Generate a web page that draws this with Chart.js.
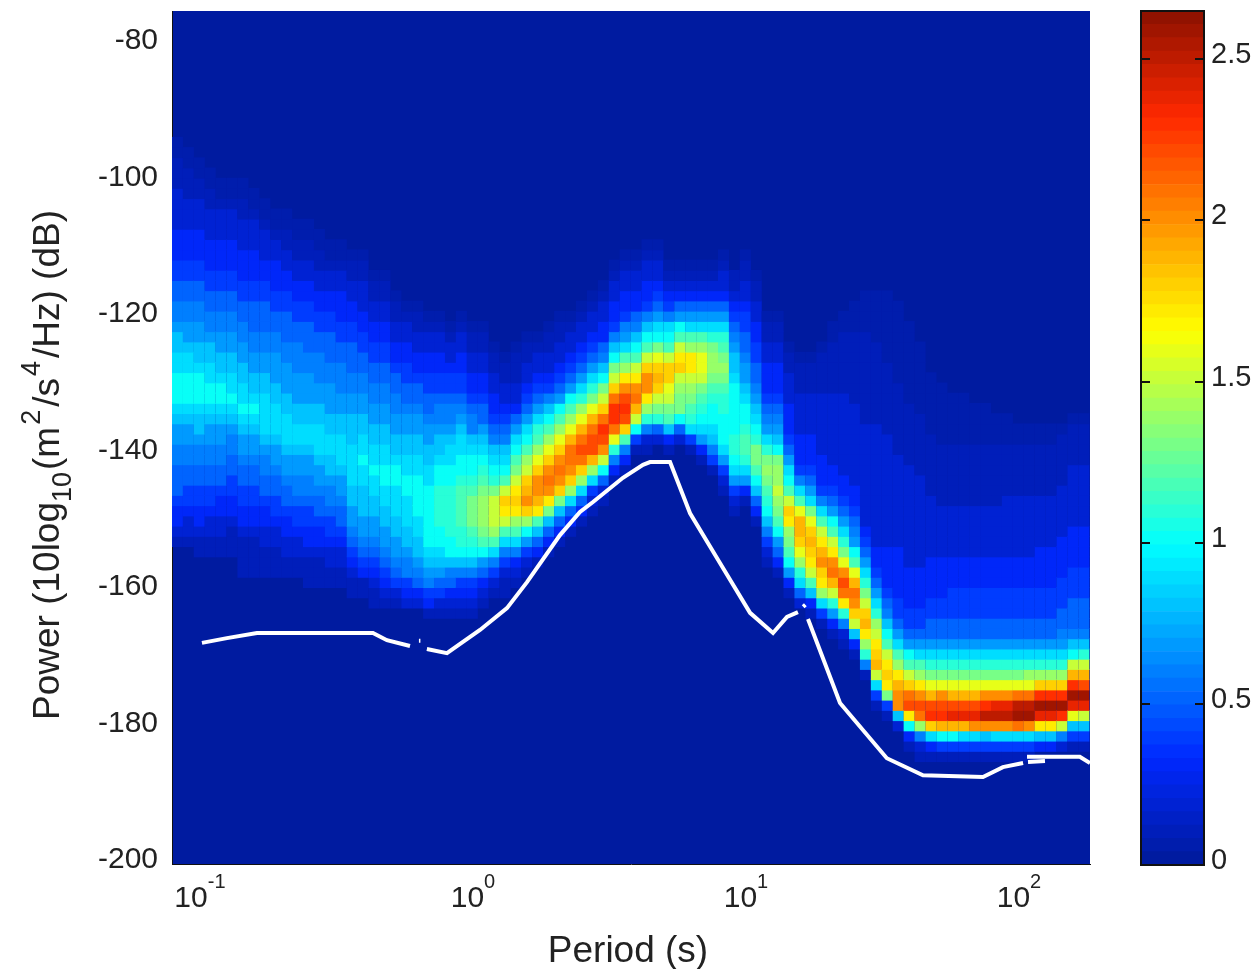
<!DOCTYPE html>
<html>
<head>
<meta charset="utf-8">
<title>Power spectral density</title>
<script src="https://cdn.jsdelivr.net/npm/chart.js@4"></script>
<style>
    html, body { margin: 0; background: #fff; }
    canvas { position: absolute; top: 0; filter: blur(0.6px); }
    #ppsd { left: 0; }
    #colorbar { left: 1130px; }
</style>
</head>
<body>
<canvas id="ppsd" width="1130" height="969"></canvas>
<canvas id="colorbar" width="126" height="969"></canvas>
<script>
// axis ticks
const periodTicks = [0.1, 1, 10, 100];
const powerTicks = [-200, -180, -160, -140, -120, -100, -80];
const colorTicks = [0, 0.5, 1, 1.5, 2, 2.5];
const colorMax = 2.65;

// histogram bins: log10(period) and dB of the lower edges, and the bin widths
const binLogStart = -1.1024;
const binLogStep = 0.04;
const binDbStart = -200;
const binDbStep = 1.5;

// first non-empty power bin of every period column
const columnStart = [
    31, 31, 30, 30, 30, 30, 28, 28, 28, 28, 28, 28, 27, 27, 27, 27, 26, 26, 25, 25, 25,
    25, 25, 24, 24, 24, 24, 24, 25, 26, 26, 27, 28, 29, 30, 31, 32, 33, 34, 35, 37, 38,
    40, 40, 41, 40, 41, 40, 39, 38, 36, 34, 35, 33, 29, 28, 26, 25, 24, 23, 22, 21, 20,
    18, 15, 14, 13, 11, 10, 10, 10, 10, 10, 10, 10, 10, 10, 10, 10, 11, 11, 11, 11, 11
];

// density of each column going up from columnStart, in tenths
const columnDensity = [
    [1,2,3,3,4,5,5,5,6,6,7,7,8,9,10,10,10,9,9,8,8,7,6,6,5,5,4,4,3,3,3,2,2,2,2,1,1,1,.5,.5],
    [1,2,2,3,4,4,5,5,6,6,7,7,8,9,10,10,10,9,9,8,7,7,6,6,5,5,4,4,3,3,3,2,2,2,1,1,1,.5,.5],
    [1,1,2,3,3,4,4,5,5,6,6,7,8,8,9,10,10,10,9,8,8,7,7,6,6,5,5,4,4,3,3,3,2,2,2,1,1,.5,.5],
    [1,1,2,2,3,4,4,5,5,6,6,7,7,8,9,10,10,9,9,8,8,7,6,6,5,5,4,4,3,3,3,2,2,2,1,1,.5,.5],
    [1,1,2,2,3,3,4,5,5,6,6,7,7,8,9,10,10,9,8,8,7,7,6,6,5,5,4,4,3,3,3,2,2,2,1,.5,.5],
    [1,1,1,2,3,3,4,4,5,5,6,6,7,8,9,10,9,9,8,8,7,7,6,6,5,5,4,4,3,3,3,2,2,2,1,.5,.5],
    [1,1,1,1,2,3,3,4,4,5,5,6,7,7,8,9,10,9,9,8,8,7,7,6,6,5,5,4,4,3,3,3,2,2,2,1,1,.5,.5],
    [1,1,1,1,2,3,3,4,4,5,5,6,7,7,8,9,10,9,8,8,7,7,6,6,5,5,5,4,4,3,3,3,2,2,2,1,.5,.5],
    [1,1,1,2,2,3,3,4,5,5,6,6,7,8,9,9,9,9,8,8,7,7,6,6,5,5,5,4,4,3,3,2,2,2,1,.5,.5],
    [1,1,1,2,2,3,4,4,5,5,6,7,7,8,9,9,9,8,8,7,7,7,6,6,5,5,4,4,3,3,3,2,2,1,.5,.5],
    [1,1,2,2,3,3,4,5,5,6,7,7,8,9,9,9,8,8,7,7,7,6,6,5,5,5,4,4,3,3,2,2,1,1,.5,.5],
    [1,1,2,2,3,4,4,5,6,6,7,7,8,9,9,8,8,7,7,7,6,6,6,5,5,4,4,3,3,2,2,1,1,.5,.5],
    [1,1,1,2,3,3,4,4,5,6,6,7,7,8,9,9,8,8,7,7,7,6,6,5,5,5,4,4,3,3,2,2,1,1,.5,.5],
    [1,1,1,2,3,3,4,5,5,6,7,7,8,9,9,9,8,8,7,7,6,6,6,5,5,4,4,3,3,2,2,1,1,.5,.5],
    [1,1,2,2,3,4,4,5,6,6,7,8,8,9,9,8,8,7,7,7,6,6,5,5,5,4,4,3,3,2,2,1,.5,.5],
    [1,1,2,2,3,4,5,5,6,7,7,8,9,9,9,8,8,7,7,6,6,6,5,5,4,4,3,3,3,2,2,1,.5,.5],
    [1,1,2,3,4,5,6,7,7,8,8,9,9,9,9,8,8,8,7,7,6,6,5,5,5,4,4,3,3,2,2,1,1,.5],
    [1,1,3,4,5,6,7,7,8,8,8,9,9,10,9,9,8,8,7,7,6,6,5,5,4,4,3,3,2,2,2,1,1,.5],
    [1,1,2,3,4,5,6,7,7,8,8,9,9,10,9,9,8,8,7,7,6,6,5,5,4,4,3,3,2,2,1,1,.5],
    [1,2,3,4,5,6,7,7,8,8,9,9,10,10,9,9,8,8,7,7,6,6,5,5,4,4,3,3,2,2,1,1,.5],
    [1,2,4,5,6,7,7,8,8,9,9,9,10,10,9,8,8,7,7,6,6,5,5,4,3,3,2,2,1,1,.5],
    [2,3,4,6,6,7,8,8,9,9,9,10,10,9,9,8,8,7,7,6,5,5,4,4,3,3,2,2,1,.5],
    [2,3,5,6,7,8,8,9,9,10,10,10,10,9,9,8,8,7,7,6,5,5,4,3,3,2,2,1,1,.5],
    [1,3,4,6,7,8,9,10,10,10,10,10,10,9,9,8,8,7,7,6,5,5,4,4,3,3,2,2,1,.5],
    [1,2,4,5,7,8,9,10,10,11,11,11,11,10,10,9,8,8,7,6,6,5,4,4,3,3,2,2,1,.5],
    [1,2,3,5,6,8,10,10,11,11,11,11,11,10,10,9,9,8,7,6,6,5,4,4,3,2,2,1,.5],
    [1,2,3,4,6,8,10,11,11,12,12,12,12,11,10,10,9,9,8,7,6,5,4,4,3,3,2,2,1,.5],
    [1,2,3,4,6,8,10,11,12,13,13,13,12,11,10,10,9,8,6,6,5,4,3,3,2,2,1,1,.5],
    [1,2,3,5,7,10,12,13,14,14,14,13,12,11,10,9,8,7,5,5,4,3,3,2,2,1,1,.5],
    [1,2,4,6,9,12,14,15,15,15,13,11,10,9,8,6,5,4,3,3,2,2,1,1,.5],
    [1,1,2,4,6,9,12,15,17,18,15,12,10,9,8,6,5,4,3,2,2,1,1,.5],
    [1,2,3,6,9,12,14,17,18,17,15,13,12,10,9,7,5,3,2,2,1,1,1,.5],
    [1,2,4,7,10,14,18,20,19,18,15,14,12,10,9,7,5,4,3,2,2,1,1,.5],
    [1,3,5,8,12,17,19,20,20,18,16,14,12,11,9,7,5,4,3,2,2,1,.5],
    [1,3,5,8,13,17,20,21,20,18,16,14,12,10,8,6,4,3,2,2,1,1,.5],
    [1,3,5,8,13,18,20,21,20,18,16,14,12,10,7,5,4,3,2,2,1,1,.5],
    [1,3,5,9,14,18,20,21,21,19,16,14,12,10,7,5,4,3,2,2,1,.5],
    [1,3,5,9,14,18,21,22,21,19,16,14,11,9,7,5,4,3,2,2,1,.5],
    [1,2,4,9,14,19,22,22,21,19,16,13,11,9,7,5,4,3,2,2,1,.5],
    [1,2,5,10,15,20,22,23,21,18,15,13,10,8,6,5,3,3,2,2,1,.5],
    [1,3,6,11,16,21,23,23,21,18,15,13,10,8,6,4,3,3,2,2,1,.5],
    [1,3,6,12,18,22,23,22,20,17,14,12,9,7,6,4,3,3,2,2,1,.5],
    [1,4,10,15,19,21,20,17,15,12,10,8,6,5,3,3,2,2,1,.5],
    [1,2,6,11,14,17,20,20,18,15,12,10,8,6,4,3,3,2,2,1,.5],
    [2,5,11,13,15,18,19,18,16,13,10,9,7,5,4,3,2,2,1,.5],
    [1,3,8,12,13,15,16,18,18,15,12,10,9,6,4,3,2,1,.5],
    [2,5,10,13,13,14,15,18,17,15,12,10,7,5,3,2,1,.5],
    [1,4,9,11,12,13,14,15,17,17,14,12,9,7,5,3,2,1,.5],
    [1,3,7,9,10,11,12,13,15,16,16,14,12,9,7,5,3,2,1,.5],
    [1,4,6,8,9,10,10,11,12,13,14,14,13,11,9,7,5,3,2,1,.5],
    [1,2,4,7,9,10,10,10,11,11,12,13,14,13,12,11,9,7,5,3,2,2,1,.5],
    [1,2,4,7,9,10,11,11,10,10,10,10,10,9,8,8,7,6,5,4,3,2,1,1],
    [1,3,7,9,11,12,12,11,10,10,9,8,7,7,6,5,5,4,4,3,2,2,1,1,.5],
    [1,3,5,8,10,12,13,13,11,10,9,8,7,6,5,5,4,4,3,3,2,2,1,1,.5],
    [1,2,4,6,8,10,11,12,13,14,13,11,9,7,6,5,4,3,3,3,2,2,1,1,.5],
    [1,3,5,7,10,12,13,14,15,14,14,13,10,8,7,6,5,4,3,3,3,2,2,1,1,.5],
    [1,3,7,10,12,13,14,17,18,15,12,10,9,7,5,4,3,3,3,2,2,2,1,1,.5],
    [2,5,9,11,14,16,18,19,19,16,12,9,6,4,3,3,3,2,2,2,2,1,1,1,.5],
    [1,3,8,12,15,17,18,19,18,16,13,9,7,5,4,3,3,3,2,2,2,2,1,1,1,.5],
    [1,4,9,14,17,18,20,19,17,15,12,9,6,4,3,3,3,2,2,2,2,2,2,1,1,1,1,.5],
    [1,3,7,11,15,19,21,20,17,15,12,10,7,5,4,3,3,2,2,2,2,2,2,2,1,1,1,1,1,.5,.5],
    [1,2,6,11,17,21,22,20,16,13,11,9,7,5,4,3,3,2,2,2,2,2,2,2,2,1,1,1,1,1,1,.5,.5],
    [1,3,8,15,18,20,21,19,16,12,10,7,6,5,4,3,3,2,2,2,2,2,2,2,2,1,1,1,1,1,1,1,.5,.5,.5],
    [1,6,11,14,17,19,18,15,13,11,9,7,5,4,3,2,2,2,2,2,2,2,2,2,2,1,1,1,1,1,1,1,1,1,.5,.5,.5,.5],
    [1,4,9,15,19,18,17,15,14,11,9,7,5,4,3,3,2,2,2,2,2,2,2,2,2,2,2,2,1,1,1,1,1,1,1,1,.5,.5,.5,.5,.5],
    [1,4,13,17,18,17,15,12,10,8,6,5,4,3,3,3,3,2,2,2,2,2,2,2,2,2,2,2,1,1,1,1,1,1,1,.5,.5,.5,.5,.5,.5,.5],
    [2,8,20,20,19,17,14,12,9,7,5,4,4,3,3,3,3,3,2,2,2,2,2,2,2,2,2,1,1,1,1,1,1,1,.5,.5,.5,.5,.5,.5,.5,.5],
    [1,3,10,17,22,21,18,15,12,10,7,5,4,4,3,3,3,3,2,2,2,2,2,2,2,2,2,2,1,1,1,1,1,1,.5,.5,.5,.5,.5,.5,.5,.5],
    [1,2,6,14,21,22,20,17,14,12,9,7,5,4,4,3,3,3,3,2,2,2,2,2,2,2,2,2,1,1,1,1,1,1,.5,.5,.5,.5,.5,.5,.5],
    [1,3,9,18,23,22,19,16,13,11,9,7,5,5,4,4,3,3,3,3,2,2,2,2,2,2,1,1,1,1,1,1,.5,.5,.5,.5,.5,.5],
    [1,4,10,19,23,22,20,16,13,11,9,7,5,5,4,4,3,3,3,3,2,2,2,2,2,1,1,1,1,1,1,.5,.5,.5,.5,.5,.5],
    [1,4,10,19,24,22,19,16,13,11,9,7,5,5,4,4,4,3,3,3,2,2,2,2,2,1,1,1,1,1,1,.5,.5,.5,.5,.5],
    [1,4,9,19,24,22,19,16,13,11,9,7,5,5,4,4,4,3,3,3,2,2,2,2,2,1,1,1,1,1,1,.5,.5,.5,.5,.5],
    [1,4,9,20,24,22,19,16,13,11,9,7,5,5,4,4,4,3,3,3,2,2,2,2,2,1,1,1,1,1,1,.5,.5,.5,.5],
    [1,4,8,20,25,23,20,16,13,11,9,7,5,5,4,4,4,3,3,3,2,2,2,2,2,1,1,1,1,1,1,.5,.5,.5,.5],
    [1,4,9,20,25,24,20,16,13,11,9,7,5,5,4,4,4,3,3,3,2,2,2,2,2,1,1,1,1,1,1,.5,.5,.5],
    [1,4,9,20,25,24,20,16,13,11,9,7,5,5,4,4,4,3,3,3,2,2,2,2,2,2,1,1,1,1,1,.5,.5,.5],
    [1,4,9,21,26,25,21,16,13,11,9,7,5,5,4,4,4,3,3,3,2,2,2,2,2,2,1,1,1,1,1,.5,.5],
    [1,4,9,20,26,25,21,16,14,11,9,7,5,5,4,4,4,3,3,3,2,2,2,2,2,2,1,1,1,1,1,.5,.5],
    [3,8,17,24,26,23,18,14,11,9,7,5,5,4,4,4,3,3,3,3,2,2,2,2,2,1,1,1,1,1,.5,.5],
    [3,8,17,24,26,23,18,14,11,9,7,5,5,4,4,4,3,3,3,3,2,2,2,2,2,1,1,1,1,1,.5,.5],
    [2,6,15,23,26,23,18,14,11,9,7,6,5,5,4,4,4,3,3,3,3,2,2,2,2,2,1,1,1,1,1,.5],
    [1,4,8,16,24,26,23,19,15,10,8,6,5,5,5,4,4,4,3,3,3,3,2,2,2,2,2,2,1,1,1,1,.5],
    [1,4,8,15,24,26,22,19,15,11,8,6,5,5,5,4,4,4,3,3,3,3,2,2,2,2,2,2,1,1,1,1,.5]
];

// white curve, null breaks the line
const curvePeriod = [
    0.1017, 0.1256, 0.1617, 0.4302, 0.484, 0.588, 0.588,
    0.634, 0.642, 0.642,
    0.678, 0.803, 1.061, 1.332, 1.577, 2.083, 2.466, 2.752, 3.542, 4.195, 4.45, 5.27, 6.24, 8.03,
    10.35, 12.56, 14.13, 15.5, 15.5,
    16.2, 16.5, 16.5,
    16.87, 22.1, 32.8, 44.5, 73.8, 87.3, 103.5, 103.5,
    107, 167, 182, 182,
    107.9, 124.5
];
const curvePower = [
    -167.6, -166.9, -166.15, -166.15, -167.2, -168.05, null,
    -167.3, -167.3, null,
    -168.5, -169.1, -165.7, -162.5, -158.7, -151.8, -148.4, -146.95, -143.4, -141.5, -141.1, -141.1, -148.6, -155.9,
    -163.2, -166.15, -163.8, -163.1, null,
    -162.3, -162, null,
    -164.1, -176.4, -184.5, -187, -187.25, -185.8, -185.2, null,
    -184.3, -184.3, -185.2, null,
    -185.05, -184.9
];

// jet palette as in the colorbar: [position, r, g, b]
const jetStops = [
    [0, 0, 26, 154],
    [0.125, 0, 40, 255],
    [0.375, 0, 255, 255],
    [0.625, 255, 255, 0],
    [0.875, 255, 40, 0],
    [1, 138, 16, 0]
];
const jetLevels = 64;

function jetColor(value) {
    const level = Math.min(jetLevels - 1, Math.floor(value / colorMax * jetLevels));
    const t = (level + 0.5) / jetLevels;
    let i = 0;
    while (i < jetStops.length - 2 && t > jetStops[i + 1][0]) i++;
    const a = jetStops[i], b = jetStops[i + 1];
    const f = (t - a[0]) / (b[0] - a[0]);
    const mix = k => Math.round(a[k] + (b[k] - a[k]) * f);
    return `rgb(${mix(1)},${mix(2)},${mix(3)})`;
}

const cells = [];
columnDensity.forEach((column, c) => {
    column.forEach((tenths, r) => {
        cells.push({
            x: Math.pow(10, binLogStart + (c + 0.5) * binLogStep),
            y: binDbStart + (columnStart[c] + r + 0.5) * binDbStep,
            v: tenths / 10
        });
    });
});

const curveData = curvePeriod.map((p, i) => ({ x: p, y: curvePower[i] }));

const textColor = '#222';
const fontFamily = '"Liberation Sans", Arial, sans-serif';

// the labels must not push the plot area in
function fixScaleBox(scale, size) {
    if (scale.isHorizontal()) scale.height = size;
    else scale.width = size;
    scale.paddingTop = 0;
    scale.paddingBottom = 0;
    scale.paddingLeft = 0;
    scale.paddingRight = 0;
}

// draws a row of text pieces with their own size and baseline shift
function drawRuns(ctx, runs, x, y) {
    runs.forEach(run => {
        ctx.font = `${run.size}px ${fontFamily}`;
        ctx.fillText(run.text, x + (run.before || 0), y + (run.shift || 0));
        x += (run.before || 0) + ctx.measureText(run.text).width;
    });
}

const axisTextPlugin = {
    id: 'axisText',
    beforeDraw(chart) {
        const { ctx, chartArea: area } = chart;
        ctx.save();
        ctx.fillStyle = jetColor(0);
        ctx.fillRect(area.left, area.top, area.right - area.left, area.bottom - area.top);
        ctx.restore();
    },
    afterDraw(chart) {
        const { ctx, scales } = chart;
        ctx.save();
        ctx.fillStyle = textColor;
        ctx.textBaseline = 'alphabetic';
        ctx.textAlign = 'left';

        // decade labels under the x axis
        periodTicks.forEach(tick => {
            const exponent = String(Math.round(Math.log10(tick)));
            ctx.font = `30px ${fontFamily}`;
            const baseWidth = ctx.measureText('10').width;
            ctx.font = `20px ${fontFamily}`;
            const expWidth = ctx.measureText(exponent).width;
            const left = scales.x.getPixelForValue(tick) - (baseWidth + expWidth) / 2;
            drawRuns(ctx, [
                { text: '10', size: 30 },
                { text: exponent, size: 20, shift: -19 }
            ], left, 907);
        });

        ctx.textAlign = 'center';
        ctx.font = `37px ${fontFamily}`;
        ctx.fillText('Period (s)', 628, 962);

        // y title needs subscript and superscripts
        ctx.textAlign = 'left';
        ctx.translate(59, 720);
        ctx.rotate(-Math.PI / 2);
        drawRuns(ctx, [
            { text: 'Power (10log', size: 37 },
            { text: '10', size: 27, shift: 12 },
            { text: '(m', size: 37, before: 2 },
            { text: '2', size: 27, shift: -19, before: 2 },
            { text: '/s', size: 37, before: 3 },
            { text: '4', size: 27, shift: -19, before: 2 },
            { text: '/Hz) (dB)', size: 37, before: 3 }
        ], 0, 0);
        ctx.restore();
    }
};

new Chart(document.getElementById('ppsd'), {
    type: 'scatter',
    data: {
        datasets: [
            {
                label: 'Lower curve',
                data: curveData,
                showLine: true,
                spanGaps: false,
                borderColor: '#fff',
                borderWidth: 4,
                pointRadius: 0
            },
            {
                label: 'Density',
                data: cells,
                pointStyle: 'rect',
                pointRadius: 7.8,
                pointBorderWidth: 0,
                pointBackgroundColor: cells.map(cell => jetColor(cell.v))
            }
        ]
    },
    options: {
        responsive: false,
        animation: false,
        events: [],
        layout: { autoPadding: false, padding: { top: 11, right: 40, left: 0, bottom: 0 } },
        plugins: { legend: { display: false }, tooltip: { enabled: false } },
        scales: {
            x: {
                type: 'logarithmic',
                min: 0.079,
                max: 182,
                afterFit: scale => fixScaleBox(scale, 105),
                afterBuildTicks: scale => { scale.ticks = periodTicks.map(value => ({ value })); },
                grid: { display: false, drawTicks: false },
                border: { color: '#111', width: 1 },
                ticks: { display: false }
            },
            y: {
                min: -200,
                max: -75,
                afterFit: scale => fixScaleBox(scale, 172),
                afterBuildTicks: scale => { scale.ticks = powerTicks.map(value => ({ value })); },
                grid: { display: false, drawTicks: false },
                border: { color: '#111', width: 1 },
                ticks: {
                    color: textColor,
                    font: { family: fontFamily, size: 30 },
                    padding: 14,
                    labelOffset: -4
                }
            }
        }
    },
    plugins: [axisTextPlugin]
});

// --- colorbar ---
const colorLevels = Array.from({ length: jetLevels }, (_, i) => i);

const colorbarFramePlugin = {
    id: 'colorbarFrame',
    afterDatasetsDraw(chart) {
        const { ctx, chartArea: area, scales } = chart;
        ctx.save();
        ctx.strokeStyle = '#111';
        ctx.lineWidth = 2;
        ctx.strokeRect(area.left, area.top, area.right - area.left, area.bottom - area.top);
        colorTicks.slice(1).forEach(tick => {
            const y = Math.round(scales.y.getPixelForValue(tick));
            ctx.beginPath();
            ctx.moveTo(area.left, y);
            ctx.lineTo(area.left + 9, y);
            ctx.moveTo(area.right - 9, y);
            ctx.lineTo(area.right, y);
            ctx.stroke();
        });
        ctx.restore();
    }
};

new Chart(document.getElementById('colorbar'), {
    type: 'bar',
    data: {
        labels: [''],
        datasets: colorLevels.map(level => ({
            data: [colorMax / jetLevels],
            backgroundColor: jetColor((level + 0.5) * colorMax / jetLevels),
            borderWidth: 0,
            barPercentage: 1,
            categoryPercentage: 1
        }))
    },
    options: {
        responsive: false,
        animation: false,
        events: [],
        layout: { autoPadding: false, padding: { top: 11, right: 0, left: 11, bottom: 104 } },
        plugins: { legend: { display: false }, tooltip: { enabled: false } },
        scales: {
            x: { stacked: true, display: false },
            y: {
                stacked: true,
                position: 'right',
                min: 0,
                max: colorMax,
                afterFit: scale => fixScaleBox(scale, 52),
                afterBuildTicks: scale => { scale.ticks = colorTicks.map(value => ({ value })); },
                grid: { display: false, drawTicks: false },
                border: { display: false },
                ticks: {
                    color: textColor,
                    font: { family: fontFamily, size: 29 },
                    padding: 7,
                    labelOffset: -4,
                    callback: value => String(value)
                }
            }
        }
    },
    plugins: [colorbarFramePlugin]
});
</script>
</body>
</html>
